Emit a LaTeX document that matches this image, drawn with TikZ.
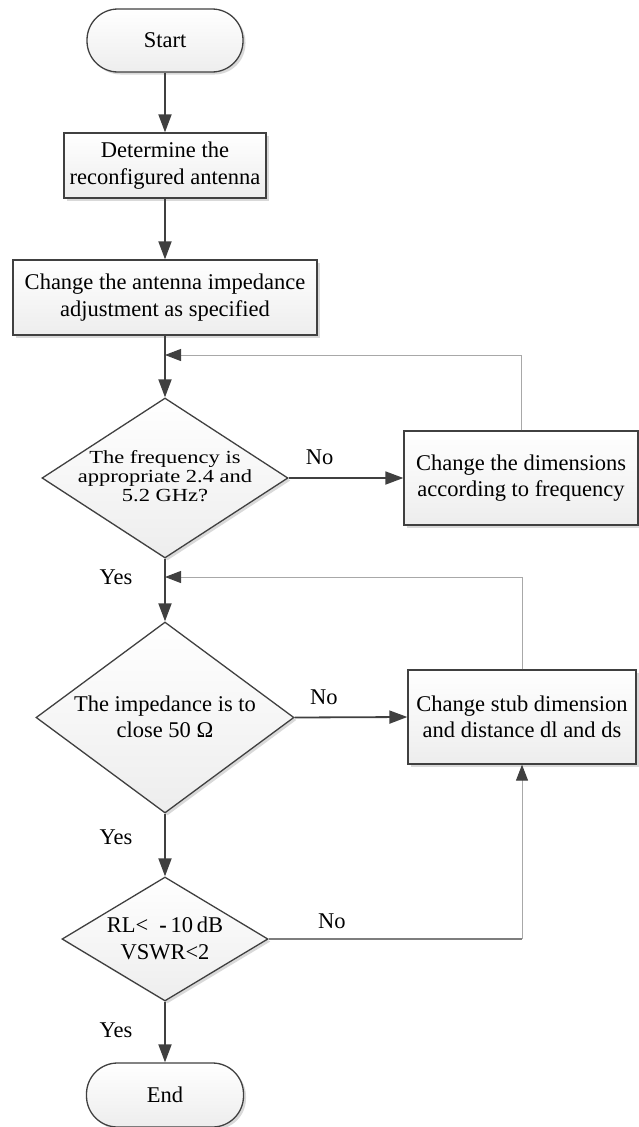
\documentclass[tikz,border=0pt]{standalone}
\usepackage{fontspec}
\usepackage{graphicx}
\setmainfont{Liberation Serif}
\usetikzlibrary{arrows.meta,shapes.geometric,shadows}
\definecolor{edge}{HTML}{404040}
\definecolor{fbline}{HTML}{A8A8A8}
\newcommand{\fs}{\fontsize{22.5}{26.5}\selectfont}
\begin{document}
\begin{tikzpicture}[x=1pt,y=-1pt,
  shad/.style={drop shadow={shadow xshift=2.5pt,shadow yshift=-2.5pt,fill=black,opacity=0.15}},
  term/.style={draw=edge,line width=1.3pt,rounded corners=31pt,minimum width=156pt,minimum height=63pt,
    top color=white,bottom color=gray!14,shad,font=\fs,inner sep=0pt},
  proc/.style={draw=edge,line width=1.3pt,top color=white,bottom color=gray!14,shad,font=\fs,
    align=center,inner sep=0pt},
  dec/.style={diamond,draw=edge,line width=1.3pt,inner sep=0pt,top color=white,bottom color=gray!14,shad},
  dtext/.style={font=\fs,align=center,inner sep=0pt},
  lab/.style={font=\fs,inner sep=0pt},
  arr/.style={draw=edge,line width=1.8pt,-{Triangle[length=18pt,width=13pt]}},
  fb/.style={draw=fbline,line width=1pt,-{Triangle[length=16pt,width=12pt,color=edge,fill=edge]}},
  rl/.style={draw=fbline!60!edge,line width=1.2pt},
]
\useasboundingbox (0,0) rectangle (638,1127);
% nodes
\node[term] (start) at (165,40.5) {Start};
\node[proc,minimum width=202pt,minimum height=65pt] (det) at (165,165.5) {Determine the\\reconfigured antenna};
\node[proc,minimum width=304pt,minimum height=75pt] (chg) at (165,297.5) {Change the antenna impedance\\adjustment as specified};
\node[dec,minimum width=246pt,minimum height=160pt] (d1) at (165,478) {};
\node[dtext] (t1) at (165,479) {\scalebox{1}[0.82]{\fontsize{22.5}{23}\selectfont\begin{tabular}{@{}c@{}}The frequency is\\appropriate 2.4 and\\5.2 GHz?\end{tabular}}};
\node[proc,minimum width=234pt,minimum height=94pt] (dims) at (521,478) {Change the dimensions\\according to frequency};
\node[dec,minimum width=258pt,minimum height=191pt] (d2) at (165,717.5) {};
\node[dtext] (t2) at (165,717) {The impedance is to\\close 50 Ω};
\node[proc,minimum width=228pt,minimum height=94pt] (stub) at (522,717) {Change stub dimension\\and distance dl and ds};
\node[dec,minimum width=206pt,minimum height=124pt] (d3) at (165,939) {};
\node[dtext] (t3) at (165,938.5) {RL<\ \ \textbf{-}\,10\,dB\\VSWR<2};
\node[term,minimum width=157pt,minimum height=64pt] (end) at (165,1095) {End};
% junctions
\coordinate (j1) at (165,355);
\coordinate (j2) at (165,577);
\coordinate (c3) at (522,939);
% connectors
\draw[arr] (start) -- (det);
\draw[arr] (det) -- (chg);
\draw[arr] (chg) -- (d1.north);
\draw[arr] (d1.east) -- node[lab,above=12pt,pos=0.27] (no1) {No} (dims.west);
\draw[fb] (dims.north) |- (j1);
\draw[arr] (d1.south) -- (d2.north);
\node[lab] (yes1) at (116,577) {Yes};
\draw[fb] (stub.north) |- (j2);
\draw[arr] (d2.east) -- node[lab,above=12pt,pos=0.26] (no2) {No} (stub.west);
\draw[arr] (d2.south) -- (d3.north);
\node[lab] (yes2) at (116,837) {Yes};
\draw[rl] (d3.east) -- node[lab,above=10pt,pos=0.25] (no3) {No} (c3);
\draw[fb] (c3) -- (stub.south);
\draw[arr] (d3.south) -- (end.north);
\node[lab] (yes3) at (116,1030) {Yes};
\end{tikzpicture}
\end{document}
